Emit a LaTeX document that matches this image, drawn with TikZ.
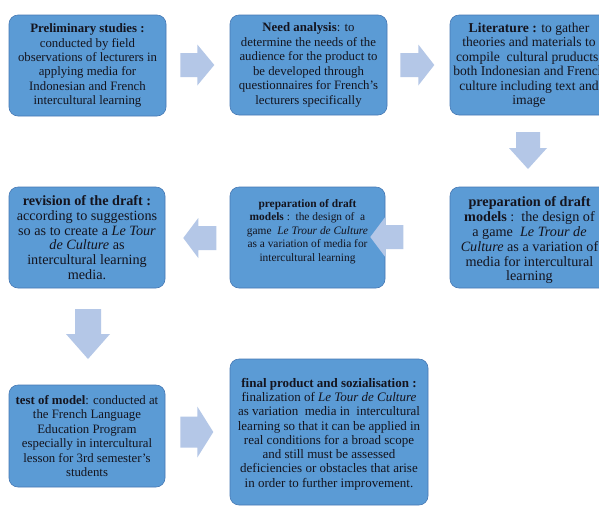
\documentclass[tikz,border=0pt]{standalone}
\usepackage{fontspec}
\setmainfont{Liberation Serif}
\definecolor{boxfill}{RGB}{91,155,213}
\definecolor{boxline}{RGB}{70,120,180}
\definecolor{arrfill}{RGB}{180,199,231}
\definecolor{txt}{RGB}{20,20,30}
\tikzset{
  stepbox/.style={draw=boxline, line width=0.6pt, fill=boxfill, rounded corners=9pt,
    align=center, inner sep=0pt, text=txt},
  boxtext/.style={align=center, inner sep=0pt, text=txt},
  blockarrow/.style={fill=arrfill, draw=none}
}
\newcommand{\fs}[2]{\fontsize{#1}{#2}\selectfont}
\begin{document}
\begin{tikzpicture}[x=1pt,y=-1pt]
\useasboundingbox (0,0) rectangle (599,507);
\clip (0,0) rectangle (599,507);
\fill[white] (0,0) rectangle (599,507);

\node[stepbox, minimum width=157pt, minimum height=101pt, font=\fs{12.8}{14.3}] (b1) at (87.5,65.5)
 {\textbf{Preliminary studies :}\\ conducted by field\\ observations of lecturers in\\ applying media for\\ Indonesian and French\\ intercultural learning};
\node[stepbox, minimum width=157pt, minimum height=100pt, font=\fs{12.8}{14.5}] (b2) at (308.5,65)
 {\textbf{Need analysis}: to\\ determine the needs of the\\ audience for the product to\\ be developed through\\ questionnaires for French's\\ lecturers specifically};
\node[stepbox, minimum width=158pt, minimum height=100pt, font=\fs{13.6}{14.5}] (b3) at (529,65)
 {\textbf{Literature :} to gather\\ theories and materials to\\ compile\ \ cultural pruducts,\\ both Indonesian and French\\ culture including text and\\ image};
\node[stepbox, minimum width=159pt, minimum height=101pt] (b4) at (529.5,237.5) {};
\node[boxtext, font=\fs{14.2}{14.8}] (b4t) at ([yshift=-3pt]b4.center)
 {\textbf{preparation of draft}\\ \textbf{models} :\ \ the design of\\ a game\ \ \textit{Le Trour de}\\ \textit{Culture} as a variation of\\ media for intercultural\\ learning};
\node[stepbox, minimum width=155pt, minimum height=101pt] (b5) at (307.5,237.5) {};
\node[boxtext, font=\fs{11.4}{13.5}] (b5t) at ([yshift=6pt]b5.center)
 {\textbf{preparation of draft}\\ \textbf{models} :\ \ the design of\ \ a\\ game\ \ \textit{Le Trour de Culture}\\ as a variation of media for\\ intercultural learning};
\node[stepbox, minimum width=156pt, minimum height=101pt, font=\fs{14.2}{14.8}] (b6) at (87,237.5)
 {\textbf{revision of the draft :}\\ according to suggestions\\ so as to create a \textit{Le Tour}\\ \textit{de Culture} as\\ intercultural learning\\ media.};
\node[stepbox, minimum width=156pt, minimum height=102pt, font=\fs{12.8}{14.4}] (b7) at (87,436)
 {\textbf{test of model}: conducted at\\ the French Language\\ Education Program\\ especially in intercultural\\ lesson for 3rd semester's\\ students};
\node[stepbox, minimum width=198pt, minimum height=146pt] (b8) at (329,432) {};
\node[boxtext, font=\fs{13}{14.3}] (b8t) at ([yshift=-2pt]b8.center)
 {\textbf{final product and sozialisation :}\\ finalization of \textit{Le Tour de Culture}\\ as variation\ \ media in\ \ intercultural\\ learning so that it can be applied in\\ real conditions for a broad scope\\ and still must be assessed\\ deficiencies or obstacles that arise\\ in order to further improvement.};

% right arrows
\coordinate (a1) at ([xshift=14pt]b1.east |- 0,65);
\fill[blockarrow] (a1) ++(0,-12) -- ++(17,0) -- ++(0,-8.5) -- ++(17,20.5) -- ++(-17,20.5) -- ++(0,-8.5) -- ++(-17,0) -- cycle;
\coordinate (a2) at ([xshift=13pt]b2.east |- 0,65);
\fill[blockarrow] (a2) ++(0,-12) -- ++(18,0) -- ++(0,-8.5) -- ++(16,20.5) -- ++(-16,20.5) -- ++(0,-8.5) -- ++(-18,0) -- cycle;
% down arrow right column
\coordinate (a3) at (528,132);
\fill[blockarrow] (a3) ++(-12,0) -- ++(0,16) -- ++(-7,0) -- ++(19,21) -- ++(19,-21) -- ++(-7,0) -- ++(0,-16) -- cycle;
% left arrows
\coordinate (a4) at ([xshift=18pt]b5.east |- 0,237);
\fill[blockarrow] (a4) ++(0,-12) -- ++(-18,0) -- ++(0,-8) -- ++(-15,20) -- ++(15,20) -- ++(0,-8) -- ++(18,0) -- cycle;
\coordinate (a5) at ([xshift=51pt]b6.east |- 0,238);
\fill[blockarrow] (a5) ++(0,-12) -- ++(-18,0) -- ++(0,-8) -- ++(-15,20) -- ++(15,20) -- ++(0,-8) -- ++(18,0) -- cycle;
% down arrow left column
\coordinate (a6) at (88,309);
\fill[blockarrow] (a6) ++(-13,0) -- ++(0,25) -- ++(-9,0) -- ++(22,25) -- ++(22,-25) -- ++(-9,0) -- ++(0,-25) -- cycle;
% right arrow bottom
\coordinate (a7) at ([xshift=15pt]b7.east |- 0,432);
\fill[blockarrow] (a7) ++(0,-15.5) -- ++(17,0) -- ++(0,-10) -- ++(16,25.5) -- ++(-16,25.5) -- ++(0,-10) -- ++(-17,0) -- cycle;
\end{tikzpicture}
\end{document}
